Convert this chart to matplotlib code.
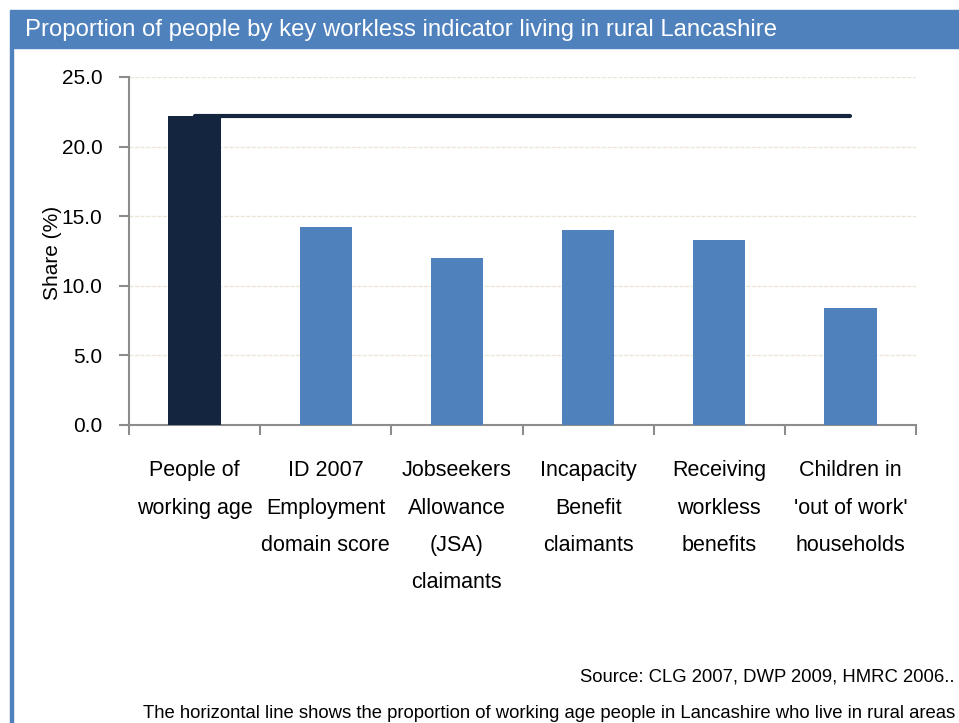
import matplotlib.pyplot as plt
import numpy as np

plt.rcParams['font.family'] = ['Liberation Sans', 'DejaVu Sans']

# shares by indicator (%)
categories = ["People of\nworking age", "ID 2007\nEmployment\ndomain score",
              "Jobseekers\nAllowance\n(JSA)\nclaimants", "Incapacity\nBenefit\nclaimants",
              "Receiving\nworkless\nbenefits", "Children in\n'out of work'\nhouseholds"]
shares = [22.2, 14.2, 12.0, 14.0, 13.3, 8.4]
rural_working_age = 22.2
yticks = [0, 5, 10, 15, 20, 25]

navy = "#13253f"
blue = "#4f81bd"

fig = plt.figure(figsize=(9.59, 7.23), dpi=100)

# title banner and left border
fig.patches.append(plt.Rectangle((10/959, 1-48/723), 949/959, 38/723,
                                 transform=fig.transFigure, color=blue, zorder=0))
fig.patches.append(plt.Rectangle((10/959, 0), 3/959, 1-48/723,
                                 transform=fig.transFigure, color=blue, zorder=0))
fig.text(25/959, 1-30/723, "Proportion of people by key workless indicator living in rural Lancashire",
         color="white", fontsize=17.2, va="center", ha="left")

ax = fig.add_axes([129/959, 1-425/723, (916-129)/959, (425-77)/723])
x = np.arange(len(categories))
colors = [navy] + [blue]*(len(categories)-1)
ax.bar(x, shares, width=0.4, color=colors, zorder=3)
ax.plot([x[0], x[-1]], [rural_working_age]*2, color=navy, lw=3,
        solid_capstyle="round", zorder=4)

ax.set_xlim(-0.5, len(categories)-0.5)
ax.set_ylim(0, 25)
ax.set_yticks(yticks)
ax.set_yticklabels([f"{v:.1f}" for v in yticks], fontsize=15)
ax.yaxis.grid(True, color="#ece6d6", ls=(0, (3, 1)), lw=1, zorder=0)
ax.set_xticks(np.arange(len(categories)+1)-0.5)
ax.set_xticklabels([])
for xi, lab in zip(x, categories):
    ax.text(xi, -2.55, lab, ha="center", va="top", fontsize=15.5, linespacing=2.02,
            transform=ax.transData)

for s in ["top", "right"]:
    ax.spines[s].set_visible(False)
for s in ["left", "bottom"]:
    ax.spines[s].set_color("#8c8c8c")
    ax.spines[s].set_linewidth(1.5)
ax.tick_params(axis="both", colors="#8c8c8c", length=7, width=1.5, labelcolor="black")
ax.tick_params(axis="y", pad=12)

fig.text(52/959, 1-253/723, "Share (%)", rotation=90, fontsize=15, ha="center", va="center")

fig.text(955/959, 1-677/723, "Source: CLG 2007, DWP 2009, HMRC 2006..",
         fontsize=13.3, ha="right", va="center")
fig.text(955/959, 1-713/723,
         "The horizontal line shows the proportion of working age people in Lancashire who live in rural areas",
         fontsize=13.3, ha="right", va="center")

fig.savefig("out.png", dpi=100)
